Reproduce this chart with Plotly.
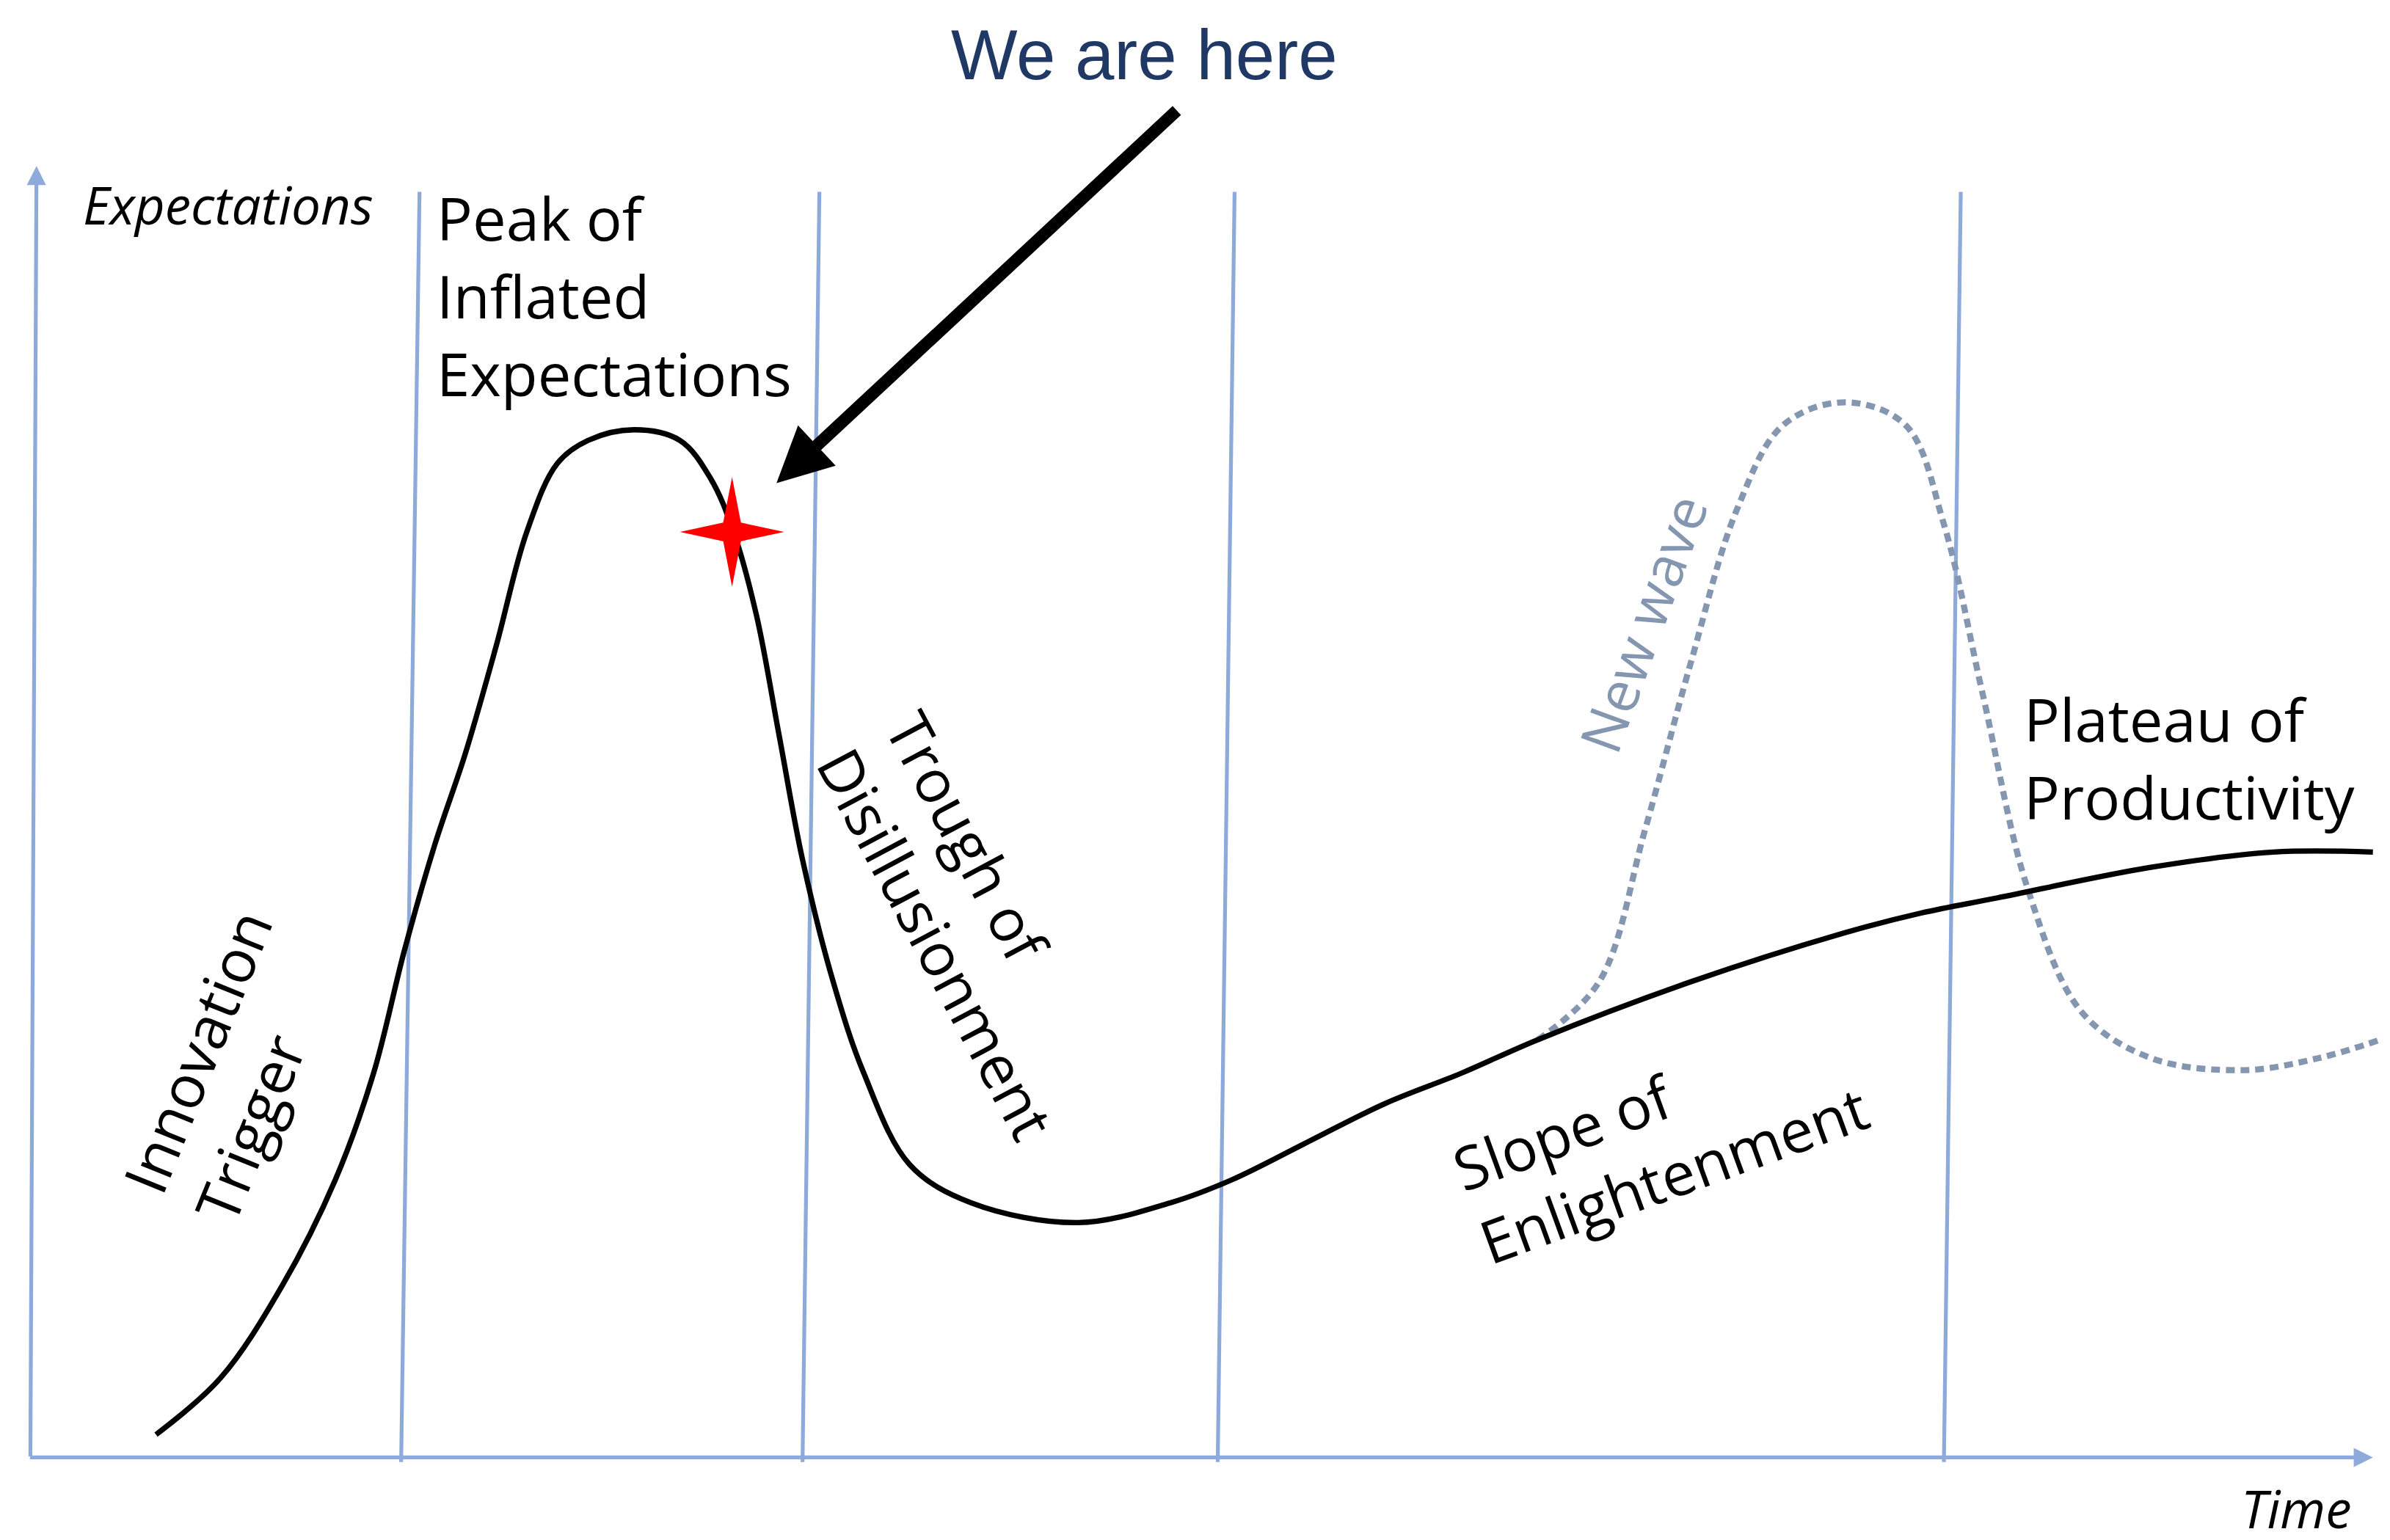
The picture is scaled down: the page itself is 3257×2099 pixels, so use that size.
import plotly.graph_objects as go

# reference drawn at ~1560x1010, output at 3257x2099
S = 3257 / 1560

# hype curve (x, y in picture units, y grows downward)
curve_x = [98, 140, 180, 215, 240, 260, 280, 300, 320, 340, 360, 380, 410, 440, 460, 475, 490, 505,
           520, 540, 560, 590, 630, 700, 760, 800, 850, 900, 950, 1000, 1100, 1200, 1250, 1300, 1400, 1480, 1545]
curve_y = [937, 900, 840, 770, 700, 620, 550, 490, 420, 345, 300, 285, 278, 285, 310, 345, 400, 480,
           560, 640, 700, 760, 785, 798, 785, 770, 745, 720, 700, 678, 640, 608, 595, 585, 565, 555, 555]

wave_x = [1000, 1040, 1070, 1100, 1130, 1160, 1200, 1240, 1265, 1290, 1320, 1355, 1400, 1460, 1510, 1550]
wave_y = [678, 640, 540, 430, 330, 275, 260, 275, 340, 450, 580, 660, 690, 698, 690, 678]

# phase separators: (top x, bottom x)
sep_top = [270, 531, 802, 1276]
sep_bot = [258, 520, 791, 1265]

# "we are here" star
star_x, star_y, star_w, star_h = 474, 345, 34, 36

blue = "#8eaadb"
fig = go.Figure()

for xt, xb in zip(sep_top, sep_bot):
    fig.add_trace(go.Scatter(x=[xt, xb], y=[122, 955], mode="lines",
                             line=dict(color=blue, width=2.5 * S), hoverinfo="skip"))

fig.add_trace(go.Scatter(x=wave_x, y=wave_y, mode="lines", line_shape="spline",
                         line=dict(color="#8496b0", width=4 * S, dash="12px,8px")))
fig.add_trace(go.Scatter(x=curve_x, y=curve_y, mode="lines", line_shape="spline",
                         line=dict(color="black", width=3.5 * S)))

# thin four-point star
k = 0.17
pts = [(0, -1), (k, -k), (1, 0), (k, k), (0, 1), (-k, k), (-1, 0), (-k, -k)]
path = "M" + " L".join(f"{star_x + px * star_w},{star_y + py * star_h}" for px, py in pts) + " Z"
fig.add_shape(type="path", path=path, xref="x", yref="y", fillcolor="red", line_width=0)

# axes with arrowheads
fig.add_annotation(x=20, y=105, ax=16, ay=952, xref="x", yref="y", axref="x", ayref="y",
                   showarrow=True, arrowhead=2, arrowsize=1, arrowwidth=2.5 * S, arrowcolor=blue, text="")
fig.add_annotation(x=1545, y=952, ax=15, ay=952, xref="x", yref="y", axref="x", ayref="y",
                   showarrow=True, arrowhead=2, arrowsize=1, arrowwidth=2.5 * S, arrowcolor=blue, text="")
# "we are here" arrow
fig.add_annotation(x=503, y=313, ax=765, ay=68, xref="x", yref="y", axref="x", ayref="y",
                   showarrow=True, arrowhead=2, arrowsize=0.9, arrowwidth=8 * S, arrowcolor="black", text="")

font = "Open Sans"
def label(text, x, y, size, angle=0, color="black", italic=False, xanchor="center", fam=font):
    if italic:
        text = "<i>" + text + "</i>"
    fig.add_annotation(x=x, y=y, text=text, showarrow=False, textangle=angle, xanchor=xanchor,
                       align="left", font=dict(family=fam, size=size * S, color=color))

label("We are here", 743, 32, 46, color="#1f3864", fam="Liberation Sans")
label("Expectations", 145, 130, 34, italic=True)
label("Peak of<br>Inflated<br>Expectations", 280, 190, 39, xanchor="left")
label("Innovation<br>Trigger", 148, 695, 39, angle=-68)
label("Trough of<br>Disillusionment", 630, 603, 39, angle=62)
label("Slope of<br>Enlightenment", 1080, 742, 39, angle=-20)
label("New wave", 1068, 405, 37, angle=-70, color="#8496b0")
label("Plateau of<br>Productivity", 1316, 493, 39, xanchor="left")
label("Time", 1495, 985, 34, italic=True)

fig.update_layout(
    width=3257, height=2099, showlegend=False,
    plot_bgcolor="white", paper_bgcolor="white",
    margin=dict(l=0, r=0, t=0, b=0),
    xaxis=dict(range=[0, 1560], visible=False),
    yaxis=dict(range=[1010, 0], visible=False),
)
fig.write_html("out.html")
